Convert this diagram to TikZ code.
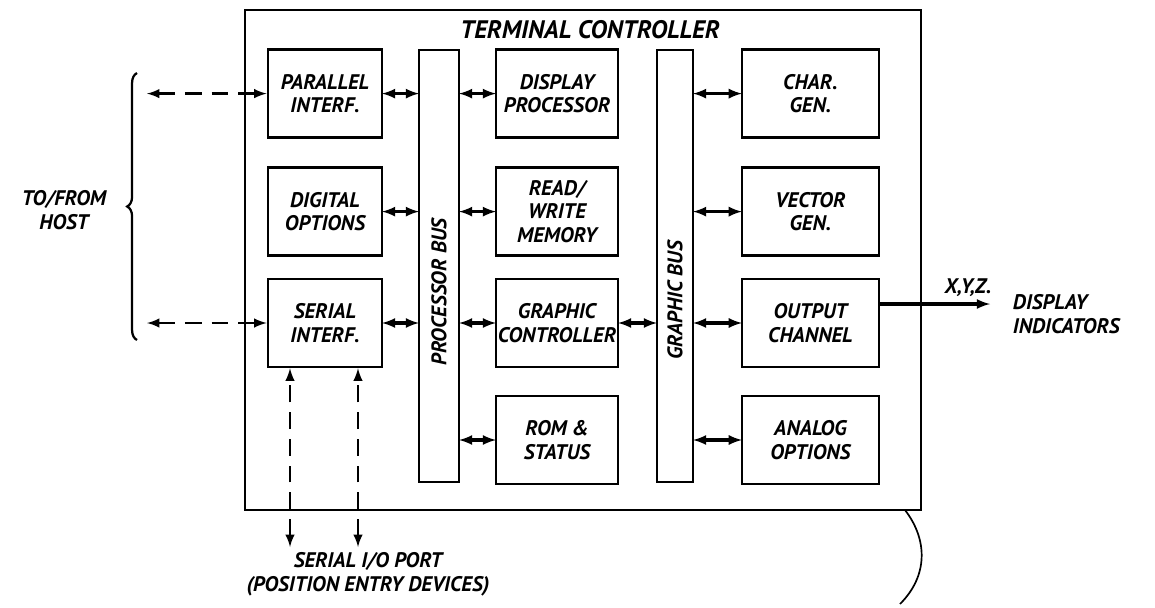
\documentclass[tikz,border=0pt]{standalone}
\usepackage{fontspec}
\setmainfont{PT Sans}
\usetikzlibrary{arrows,calc,decorations.pathreplacing}

\begin{document}
\begin{tikzpicture}[
  blk/.style={draw, line width=2pt, minimum height=2.2cm, align=center, inner sep=1pt,
    font=\fontsize{15}{17}\selectfont\bfseries\itshape},
  busbar/.style={draw, line width=2pt, minimum height=10.8cm},
  bilink/.style={<->, >=latex, line width=2.2pt, shorten <=-1pt, shorten >=-1pt},
  hostlink/.style={<->, >=latex, line width=2pt, dash pattern=on 12pt off 7pt},
  note/.style={font=\fontsize{15}{17}\selectfont\bfseries\itshape, align=center}
]
\useasboundingbox (0,0) rectangle (28.875,-15.175);

% controller frame and buses
\node[draw, line width=2pt, minimum width=16.9cm, minimum height=12.5cm] (ctrl) at (14.575,-6.5) {};
\node[note, font=\fontsize{18}{20}\selectfont\bfseries\itshape] (title) at (14.75,-0.75) {TERMINAL CONTROLLER};
\node[busbar, minimum width=1.0cm] (pbus) at (10.975,-6.65) {};
\node[busbar, minimum width=0.9cm] (gbus) at (16.875,-6.65) {};
\node[note, rotate=90] (pbuslab) at (10.975,-7.3) {PROCESSOR BUS};
\node[note, rotate=90] (gbuslab) at (16.875,-7.5) {GRAPHIC BUS};

% left column
\node[blk, minimum width=2.85cm] (par) at (8.125,-2.34) {PARALLEL\\INTERF.};
\node[blk, minimum width=2.85cm] (dig) at (8.125,-5.29) {DIGITAL\\OPTIONS};
\node[blk, minimum width=2.85cm] (ser) at (8.125,-8.075) {SERIAL\\INTERF.};
% middle column
\node[blk, minimum width=3.05cm] (dpro) at (13.925,-2.34) {DISPLAY\\PROCESSOR};
\node[blk, minimum width=3.05cm] (rwm) at (13.925,-5.29) {READ/\\WRITE\\MEMORY};
\node[blk, minimum width=3.05cm] (gctl) at (13.925,-8.075) {GRAPHIC\\CONTROLLER};
\node[blk, minimum width=3.05cm] (rom) at (13.925,-11.0) {ROM \&\\STATUS};
% right column
\node[blk, minimum width=3.425cm] (cgen) at (20.26,-2.34) {CHAR.\\GEN.};
\node[blk, minimum width=3.425cm] (vgen) at (20.26,-5.29) {VECTOR\\GEN.};
\node[blk, minimum width=3.425cm] (outch) at (20.26,-8.075) {OUTPUT\\CHANNEL};
\node[blk, minimum width=3.425cm] (ana) at (20.26,-11.0) {ANALOG\\OPTIONS};

% bus links
\foreach \b in {par,dig,ser}
  \draw[bilink] (\b.east) -- (\b.east -| pbus.west);
\foreach \b in {dpro,rwm,gctl,rom}
  \draw[bilink] (\b.west -| pbus.east) -- (\b.west);
\draw[bilink] (gctl.east) -- (gctl.east -| gbus.west);
\foreach \b in {cgen,vgen,outch,ana}
  \draw[bilink] (\b.west -| gbus.east) -- (\b.west);

% host side
\coordinate (hpar) at (3.675,-2.34);
\coordinate (hser) at (3.675,-8.075);
\draw[hostlink] (hpar) -- (par.west);
\draw[hostlink] (hser) -- (ser.west);
\draw[line width=1.6pt, decorate, decoration={brace, amplitude=7pt}] (3.425,-8.5) -- (3.425,-1.825);
\node[note] (host) at (1.6,-5.25) {TO/FROM\\HOST};

% serial port
\coordinate (io1) at (7.25,-13.675);
\coordinate (io2) at (8.95,-13.675);
\draw[hostlink] (io1) -- (io1 |- ser.south);
\draw[hostlink] (io2) -- (io2 |- ser.south);
\node[note] (port) at (9.2,-14.35) {SERIAL I/O PORT\\(POSITION ENTRY DEVICES)};

% display output
\coordinate (disp) at (24.75,-7.6);
\draw[->, >=latex, line width=2.2pt] (outch.east |- disp) -- (disp);
\node[note] (xyz) at (24.2,-7.2) {X,Y,Z.};
\node[note, anchor=west, align=left] (ind) at (25.2,-7.85) {DISPLAY\\INDICATORS};

\draw[line width=1.2pt] (22.625,-12.75) .. controls (23.2,-13.5) and (23.2,-14.4) .. (22.5,-15.1);
\end{tikzpicture}
\end{document}
